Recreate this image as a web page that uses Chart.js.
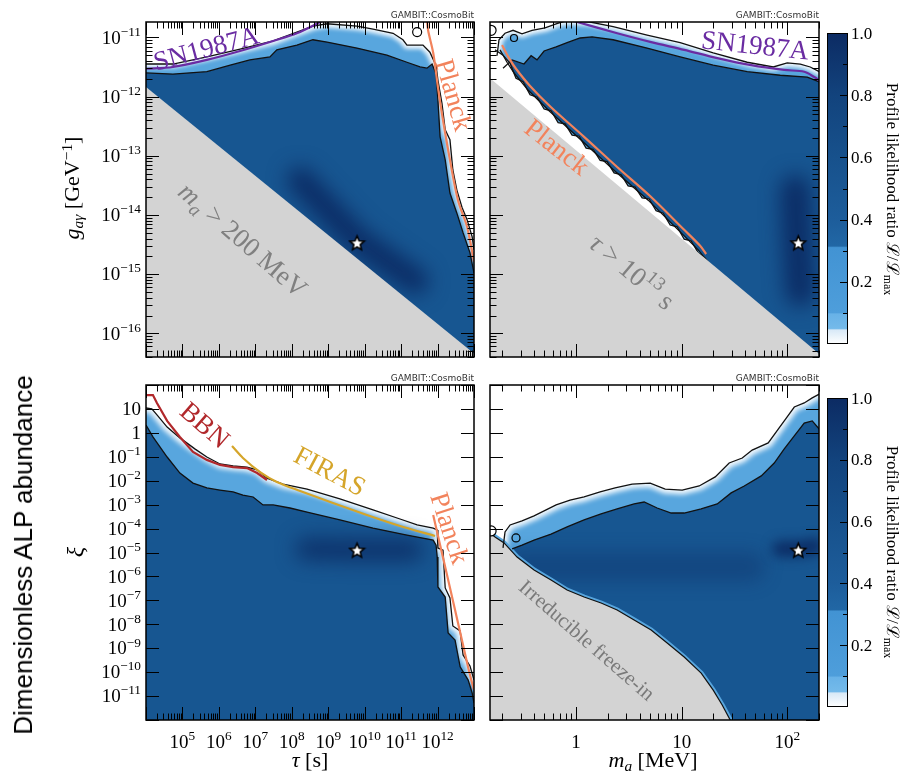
<!DOCTYPE html>
<html>
<head>
<meta charset="utf-8">
<script src="https://cdn.jsdelivr.net/npm/chart.js@4.4.1/dist/chart.umd.min.js"></script>
<style>
  body { margin: 0; background: #fff; }
  #fig { position: relative; width: 900px; height: 773px; overflow: hidden; background: #fff; }
  #fig canvas { position: absolute; left: 0; top: 0; }
  .txt { position: absolute; white-space: nowrap; line-height: 1; font-family: "Liberation Serif", serif; color: #000; }
  .c { transform: translate(-50%, -50%); }
  .up { transform: translate(-50%, -50%) rotate(-90deg); }
  .down { transform: translate(-50%, -50%) rotate(90deg); }
  .tag { font: 9px "DejaVu Sans", sans-serif; color: #333; }
  sub, sup { font-size: 0.7em; line-height: 0; position: relative; vertical-align: baseline; }
  sub { top: 0.25em; }
  sup { top: -0.45em; }
</style>
</head>
<body>
<div id="fig">
  <canvas id="tl" width="900" height="773"></canvas>
  <canvas id="tr" width="900" height="773"></canvas>
  <canvas id="bl" width="900" height="773"></canvas>
  <canvas id="br" width="900" height="773"></canvas>
  <canvas id="cbTop" width="900" height="773"></canvas>
  <canvas id="cbBottom" width="900" height="773"></canvas>

  <div class="txt tag" style="right:426px;top:10px">GAMBIT::CosmoBit</div>
  <div class="txt tag" style="right:81px;top:10px">GAMBIT::CosmoBit</div>
  <div class="txt tag" style="right:426px;top:373px">GAMBIT::CosmoBit</div>
  <div class="txt tag" style="right:81px;top:373px">GAMBIT::CosmoBit</div>

  <div class="txt up" style="left:23px;top:555px;font-family:'Liberation Sans',sans-serif;font-size:26px">Dimensionless ALP abundance</div>
  <div class="txt up" style="left:72px;top:188px;font-size:22px"><i>g</i><sub><i>aγ</i></sub>&nbsp;[GeV<sup>−1</sup>]</div>
  <div class="txt up" style="left:75px;top:552px;font-size:24px"><i>ξ</i></div>
  <div class="txt c" style="left:310px;top:760px;font-size:22px"><i>τ</i> [s]</div>
  <div class="txt c" style="left:653px;top:760px;font-size:22px"><i>m</i><sub><i>a</i></sub> [MeV]</div>
  <div class="txt down" style="left:892px;top:189px;font-size:17px">Profile likelihood ratio ℒ/ℒ<sub>max</sub></div>
  <div class="txt down" style="left:892px;top:552px;font-size:17px">Profile likelihood ratio ℒ/ℒ<sub>max</sub></div>
</div>

<script>
// all curves are [log10 x, log10 y] pairs

// --- tau vs g_agamma ---
const tlOuter = [[4.00,-11.45],[4.74,-11.45],[5.67,-11.33],[6.58,-11.20],[7.49,-11.06],[8.14,-10.91],[8.58,-10.81],[8.97,-10.77],[9.79,-10.81],[10.23,-10.86],[10.78,-10.93],[11.05,-11.04],[11.16,-11.13],[11.60,-11.13],[11.79,-11.25],[11.96,-11.48],[12.01,-11.72],[12.12,-12.11],[12.21,-12.56],[12.34,-12.73],[12.42,-13.24],[12.53,-13.58],[12.67,-13.87],[12.81,-14.08],[12.95,-14.37],[13.00,-14.59]];
const tlInner = [[4.00,-11.60],[4.74,-11.62],[5.67,-11.58],[6.31,-11.47],[6.85,-11.38],[7.40,-11.33],[7.59,-11.21],[8.14,-11.13],[8.58,-11.04],[8.97,-11.08],[9.79,-11.18],[10.61,-11.30],[11.16,-11.42],[11.52,-11.50],[11.71,-11.52],[11.85,-11.45],[11.96,-11.62],[12.01,-12.06],[12.07,-12.68],[12.21,-13.07],[12.34,-13.63],[12.53,-13.97],[12.70,-14.30],[12.89,-14.64],[13.00,-14.98]];
const tlGrey = [[4.00,-11.84],[13.00,-16.34]];
const tlSN = [[4.00,-11.53],[4.74,-11.50],[5.67,-11.38],[6.58,-11.23],[7.49,-11.06],[8.14,-10.93],[8.78,-10.74],[8.92,-10.69]];
const tlPlanck = [[11.71,-10.70],[11.74,-10.88],[11.88,-11.26],[12.01,-11.84],[12.15,-12.40],[12.34,-13.07],[12.56,-13.75],[12.81,-14.20],[13.00,-14.79]];
const tlBlob = [[8.23,-13.41],[9.79,-14.42],[11.40,-15.12]];
const tlRing = [[11.44,-10.91]];
const tlBest = [[9.79,-14.47]];

// --- m_a vs g_agamma ---
const trOuter = [[-0.749,-11.31],[-0.730,-11.04],[-0.673,-10.93],[-0.597,-10.88],[-0.512,-10.94],[-0.417,-10.88],[-0.294,-10.84],[-0.189,-10.77],[-0.095,-10.72],[0.133,-10.74],[0.351,-10.82],[0.673,-10.96],[0.986,-11.09],[1.299,-11.26],[1.621,-11.42],[1.868,-11.50],[2.000,-11.43],[2.124,-11.45],[2.218,-11.50],[2.303,-11.58]];
const trInner = [[-0.692,-11.52],[-0.606,-11.38],[-0.493,-11.45],[-0.426,-11.31],[-0.370,-11.38],[-0.303,-11.23],[-0.189,-11.16],[-0.085,-11.09],[0.038,-11.01],[0.152,-10.99],[0.351,-11.04],[0.673,-11.18],[0.986,-11.33],[1.299,-11.47],[1.621,-11.58],[1.934,-11.64],[2.190,-11.67],[2.303,-11.75]];
const trLowInner = [[-0.720,-11.21],[-0.654,-11.42],[-0.588,-11.60],[-0.455,-11.89],[-0.256,-12.24],[0.057,-12.75],[0.370,-13.26],[0.683,-13.75],[1.005,-14.32],[1.157,-14.59],[1.232,-14.76],[1.289,-14.90]];
const trLowOuter = [[-0.768,-11.21],[-0.692,-11.30],[-0.625,-11.44],[-0.569,-11.69],[-0.502,-11.75],[-0.436,-11.97],[-0.369,-12.01],[-0.303,-12.21],[-0.237,-12.24],[-0.170,-12.44],[-0.104,-12.46],[-0.038,-12.65],[0.029,-12.67],[0.095,-12.87],[0.161,-12.89],[0.228,-13.08],[0.294,-13.10],[0.360,-13.29],[0.427,-13.32],[0.493,-13.51],[0.559,-13.53],[0.626,-13.71],[0.692,-13.73],[0.758,-13.93],[0.825,-13.97],[0.891,-14.17],[0.957,-14.20],[1.024,-14.41],[1.090,-14.44],[1.157,-14.64],[1.223,-14.73],[1.289,-14.90]];
const trGrey = [[-0.815,-11.69],[2.303,-16.35]];
const trSN = [[-0.057,-10.71],[0.010,-10.74],[0.389,-10.93],[0.711,-11.08],[1.024,-11.21],[1.337,-11.35],[1.659,-11.47],[1.972,-11.55],[2.161,-11.58],[2.256,-11.67],[2.322,-11.75]];
const trPlanck = [[-0.701,-11.13],[-0.635,-11.35],[-0.569,-11.53],[-0.436,-11.82],[-0.237,-12.18],[0.076,-12.68],[0.389,-13.19],[0.701,-13.68],[1.024,-14.25],[1.175,-14.52],[1.232,-14.66]];
const trBlob = [[2.076,-13.58],[2.095,-14.42],[2.124,-15.30]];
const trIsland = [[-0.588,-11.01]];
const trRing = [[-0.805,-10.88]];
const trBest = [[2.105,-14.47]];

// --- tau vs xi ---
const blOuter = [[4.00,1.04],[4.16,1.00],[4.33,0.70],[4.58,0.24],[4.93,-0.21],[5.34,-0.67],[5.67,-1.01],[6.03,-1.30],[6.39,-1.38],[6.77,-1.43],[7.05,-1.55],[7.32,-1.89],[7.76,-2.14],[8.42,-2.35],[9.32,-2.76],[10.23,-3.22],[10.97,-3.60],[11.44,-3.85],[11.88,-3.98],[11.99,-4.06],[12.01,-4.81],[12.15,-4.90],[12.21,-6.48],[12.34,-6.90],[12.42,-8.07],[12.62,-8.28],[12.70,-9.28],[12.89,-9.74],[13.00,-10.33]];
const blInner = [[4.00,0.33],[4.19,-0.17],[4.58,-1.01],[4.93,-1.68],[5.29,-2.10],[5.67,-2.30],[6.03,-2.39],[6.39,-2.47],[6.66,-2.60],[6.94,-2.68],[7.21,-3.01],[7.49,-3.01],[7.95,-3.14],[8.42,-3.31],[9.32,-3.64],[10.23,-3.98],[11.16,-4.27],[11.88,-4.48],[11.96,-4.69],[11.99,-5.19],[12.01,-6.44],[12.21,-6.86],[12.29,-8.36],[12.48,-8.66],[12.62,-9.78],[12.84,-10.33],[12.95,-10.87],[13.00,-11.29]];
const blBBN = [[4.00,1.58],[4.19,1.58],[4.30,1.25],[4.58,0.50],[4.93,-0.17],[5.29,-0.80],[5.67,-1.13],[6.03,-1.34],[6.39,-1.43],[6.77,-1.47],[7.05,-1.68],[7.32,-1.97]];
const blFIRAS = [[6.36,-0.55],[6.66,-1.05],[7.13,-1.64],[7.59,-2.05],[8.23,-2.43],[9.13,-2.93],[10.06,-3.43],[10.97,-3.89],[11.93,-4.31]];
const blPlanck = [[11.88,-3.43],[12.07,-4.69],[12.26,-5.94],[12.48,-7.40],[12.70,-8.87],[12.89,-10.12],[13.00,-10.75]];
const blBlob = [[8.40,-4.85],[9.79,-4.90],[11.30,-4.90]];
const blBest = [[9.79,-4.90]];

// --- m_a vs xi ---
const brOuter = [[-0.692,-4.81],[-0.673,-4.14],[-0.625,-3.85],[-0.512,-3.68],[-0.398,-3.47],[-0.284,-3.22],[-0.189,-3.01],[-0.057,-2.81],[0.076,-2.68],[0.228,-2.47],[0.370,-2.30],[0.531,-2.14],[0.702,-2.10],[0.844,-2.35],[1.005,-2.39],[1.166,-2.22],[1.318,-1.84],[1.450,-1.26],[1.574,-1.05],[1.668,-0.72],[1.820,-0.42],[1.915,0.16],[1.991,0.62],[2.067,1.08],[2.161,1.25],[2.237,1.46],[2.303,1.62]];
const brInner = [[-0.606,-4.85],[-0.512,-4.69],[-0.398,-4.48],[-0.237,-4.23],[-0.085,-3.93],[0.076,-3.64],[0.237,-3.39],[0.389,-3.18],[0.550,-2.97],[0.645,-2.89],[0.768,-3.14],[0.901,-3.35],[1.024,-3.35],[1.185,-3.18],[1.337,-2.97],[1.469,-2.51],[1.593,-2.22],[1.754,-1.80],[1.877,-1.26],[1.972,-0.67],[2.067,-0.13],[2.161,0.41],[2.237,0.50],[2.303,0.16]];
const brFreezeIn = [[-0.815,-4.18],[-0.768,-4.35],[-0.682,-4.60],[-0.559,-5.19],[-0.398,-5.73],[-0.237,-6.15],[-0.085,-6.57],[0.076,-6.86],[0.237,-7.11],[0.389,-7.40],[0.550,-7.82],[0.711,-8.24],[0.863,-8.78],[1.024,-9.37],[1.185,-10.04],[1.299,-10.75],[1.384,-11.37],[1.460,-12.00],[1.507,-12.20]];
const brBand = [[-0.53,-5.60],[0.60,-5.60],[1.65,-5.60]];
const brBlob = [[1.934,-4.85],[2.124,-4.85],[2.266,-4.73]];
const brIsland = [[-0.569,-4.39]];
const brRing = [[-0.805,-4.10]];
const brBest = [[2.105,-4.90]];

// tick label exponents and colour bar
const tauLabelExp = [5, 6, 7, 8, 9, 10, 11, 12];
const gLabelExp = [-11, -12, -13, -14, -15, -16];
const xiLabelExp = [1, 0, -1, -2, -3, -4, -5, -6, -7, -8, -9, -10, -11];
const massLabelExp = [0, 1, 2];
const cbTicks = [0.2, 0.4, 0.6, 0.8, 1.0];
const cbMinor = [0.1, 0.3, 0.5, 0.7, 0.9];
const cbLabels = ['0.2', '0.4', '0.6', '0.8', '1.0'];
const cbStops = [[0, '#ffffff'], [0.045, '#d8e9f7'], [0.05, '#74baea'], [0.097, '#68b2e7'], [0.1, '#4e9edb'], [0.31, '#4293d3'], [0.315, '#2167a5'], [0.4, '#1d5d9b'], [0.6, '#17518c'], [0.8, '#12437d'], [1, '#0c2b63']];

const C = {
  deep: '#175691', band: '#58a6de', fringe: 'rgba(255,255,255,0.92)', grey: '#d3d3d3',
  contour: '#111111', blob: 'rgba(9,38,94,0.85)', sn: '#6a2ca2', planck: '#f2835c',
  bbn: '#b1282b', firas: '#d5a52a', note: '#808080'
};

const xy = pts => pts.map(([a, b]) => ({x: 10 ** a, y: 10 ** b}));

function starImage(r) {
  const c = document.createElement('canvas');
  const s = Math.ceil(r * 2 + 4);
  c.width = c.height = s;
  const g = c.getContext('2d');
  g.translate(s / 2, s / 2 + r * 0.1);
  g.beginPath();
  for (let i = 0; i < 10; i++) {
    const rr = i % 2 ? r * 0.45 : r;
    const t = -Math.PI / 2 + i * Math.PI / 5;
    g.lineTo(rr * Math.cos(t), rr * Math.sin(t));
  }
  g.closePath();
  g.fillStyle = '#fff';
  g.fill();
  g.lineWidth = 1.6;
  g.strokeStyle = '#000';
  g.stroke();
  return c;
}
const starImg = starImage(7.5);

// dataset shorthands
const area = (pts, color) => ({data: xy(pts), fill: 'start', backgroundColor: color, borderColor: 'rgba(0,0,0,0)', borderWidth: 0});
const curve = (pts, color, width, extra) => Object.assign({data: xy(pts), fill: false, borderColor: color, borderWidth: width}, extra);
const glow = (pts, color, width, blur) => ({data: xy(pts), fill: false, borderColor: color, borderWidth: width, blur: blur, borderCapStyle: 'round', borderJoinStyle: 'round'});
const dots = (pts, color, r) => ({data: xy(pts), showLine: false, pointRadius: r, pointStyle: 'circle', pointBackgroundColor: color, pointBorderColor: '#000', pointBorderWidth: 1.2, clip: 0});
const star = pts => ({data: xy(pts), showLine: false, pointRadius: 8, pointStyle: starImg});

function drawRich(ctx, parts, x, y, o) {
  const size = o.size;
  const segs = parts.map(([t, f]) => {
    const small = f.includes('b') || f.includes('p');
    const s = small ? size * 0.7 : size;
    const font = (f.includes('i') ? 'italic ' : '') + s.toFixed(1) + 'px "Liberation Serif"';
    ctx.font = font;
    return {t, font, w: ctx.measureText(t).width, dy: f.includes('b') ? size * 0.22 : f.includes('p') ? -size * 0.42 : 0};
  });
  const total = segs.reduce((s, g) => s + g.w, 0);
  let cx = o.align === 'right' ? -total : o.align === 'left' ? 0 : -total / 2;
  ctx.save();
  ctx.translate(x, y);
  ctx.rotate((o.angle || 0) * Math.PI / 180);
  ctx.fillStyle = o.color || '#000';
  ctx.textAlign = 'left';
  ctx.textBaseline = 'alphabetic';
  segs.forEach(g => {
    ctx.font = g.font;
    ctx.fillText(g.t, cx, size * 0.33 + g.dy);
    cx += g.w;
  });
  ctx.restore();
}

const powParts = e => e === 0 ? [['1', '']] : e === 1 ? [['10', '']] : [['10', ''], [String(e).replace('-', '−'), 'p']];

function logTicks(scale, lo, hi, minor) {
  const major = [], small = [];
  for (let e = lo; e <= hi; e++) {
    major.push(10 ** e);
    if (minor) for (let k = 2; k <= 9; k++) small.push(k * 10 ** e);
  }
  const inside = v => v >= scale.min * 0.999 && v <= scale.max * 1.001;
  return [major.filter(inside), small.filter(inside)];
}

const decor = {};

const panelDecor = {
  id: 'panelDecor',
  beforeDatasetDraw(chart, args) {
    const b = chart.data.datasets[args.index].blur;
    if (b) {
      chart.ctx.save();
      chart.ctx.filter = 'blur(' + b + 'px)';
    }
  },
  afterDatasetDraw(chart, args) {
    if (chart.data.datasets[args.index].blur) chart.ctx.restore();
  },
  afterDatasetsDraw(chart) {
    const d = decor[chart.canvas.id];
    if (!d) return;
    const {ctx, chartArea: a} = chart;
    const sx = chart.scales.x, sy = chart.scales.y;

    ctx.save();
    ctx.beginPath();
    ctx.rect(a.left, a.top, a.width, a.height);
    ctx.clip();
    d.notes.forEach(n => drawRich(ctx, n.parts, sx.getPixelForValue(10 ** n.at[0]), sy.getPixelForValue(10 ** n.at[1]), n));
    ctx.restore();

    ctx.save();
    ctx.strokeStyle = '#000';
    ctx.lineWidth = 1;
    ctx.beginPath();
    const [xMaj, xMin] = logTicks(sx, d.x.exp[0], d.x.exp[1], d.x.minor);
    const [yMaj, yMin] = logTicks(sy, d.y.exp[0], d.y.exp[1], d.y.minor);
    [[xMaj, 13], [xMin, 6.5]].forEach(([vals, len]) => vals.forEach(v => {
      const p = Math.round(sx.getPixelForValue(v)) + 0.5;
      ctx.moveTo(p, a.bottom); ctx.lineTo(p, a.bottom - len);
      ctx.moveTo(p, a.top); ctx.lineTo(p, a.top + len);
    }));
    [[yMaj, 13], [yMin, 6.5]].forEach(([vals, len]) => vals.forEach(v => {
      const p = Math.round(sy.getPixelForValue(v)) + 0.5;
      ctx.moveTo(a.left, p); ctx.lineTo(a.left + len, p);
      ctx.moveTo(a.right, p); ctx.lineTo(a.right - len, p);
    }));
    ctx.stroke();
    ctx.lineWidth = 1.5;
    ctx.strokeRect(a.left, a.top, a.width, a.height);

    (d.x.labels || []).forEach(e => drawRich(ctx, powParts(e), sx.getPixelForValue(10 ** e), a.bottom + 22, {size: 19}));
    (d.y.labels || []).forEach(e => drawRich(ctx, powParts(e), a.left - 5, sy.getPixelForValue(10 ** e), {size: 19, align: 'right'}));
    ctx.restore();
  }
};

function panel(id, pad, xr, yr, layers, cfg) {
  decor[id] = cfg;
  const n = layers.length;
  return new Chart(document.getElementById(id), {
    type: 'line',
    data: {
      datasets: layers.map((d, i) => Object.assign({pointRadius: 0, pointHoverRadius: 0, tension: 0, order: n - i}, d))
    },
    options: {
      responsive: false,
      animation: false,
      devicePixelRatio: 1,
      events: [],
      layout: {padding: pad},
      scales: {
        x: {type: 'logarithmic', min: xr[0], max: xr[1], display: false, bounds: 'data'},
        y: {type: 'logarithmic', min: yr[0], max: yr[1], display: false, bounds: 'data'}
      },
      plugins: {legend: {display: false}, tooltip: {enabled: false}}
    },
    plugins: [panelDecor]
  });
}

const tauRange = [1e4, 1e13];
const massRange = [0.153, 200];
const gRange = [10 ** -16.4, 10 ** -10.74];
const xiRange = [1e-12, 1e2];
const smooth = {tension: 0.3};

panel('tl', {left: 146, top: 22, right: 426, bottom: 416}, tauRange, gRange, [
  area(tlOuter, C.band),
  glow(tlOuter, C.fringe, 8, 2),
  area(tlInner, C.deep),
  glow(tlBlob, C.blob, 26, 10),
  area(tlGrey, C.grey),
  curve(tlOuter, C.contour, 1.3),
  curve(tlInner, C.contour, 1.3),
  curve(tlSN, C.sn, 2.2, smooth),
  curve(tlPlanck, C.planck, 2.2, smooth),
  dots(tlRing, '#fff', 4.5),
  star(tlBest)
], {
  x: {exp: [4, 13], minor: true},
  y: {exp: [-17, -10], minor: true, labels: gLabelExp},
  notes: [
    {at: [5.65, -11.18], angle: -15, size: 27, color: C.sn, parts: [['SN1987A', '']]},
    {at: [12.45, -11.97], angle: 74, size: 27, color: C.planck, parts: [['Planck', '']]},
    {at: [6.66, -14.42], angle: 41, size: 27, color: C.note, parts: [['m', 'i'], ['a', 'ib'], [' > 200 MeV', '']]}
  ]
});

panel('tr', {left: 490, top: 22, right: 81, bottom: 416}, massRange, gRange, [
  area(trOuter, C.band),
  glow(trOuter, C.fringe, 8, 2),
  area(trInner, C.deep),
  glow(trBlob, C.blob, 30, 10),
  area(trLowInner, C.band),
  area(trLowOuter, '#ffffff'),
  curve(trLowInner, C.contour, 1.3),
  curve(trLowOuter, C.contour, 1.3),
  area(trGrey, C.grey),
  curve(trOuter, C.contour, 1.3),
  curve(trInner, C.contour, 1.3),
  curve(trSN, C.sn, 2.2, smooth),
  curve(trPlanck, C.planck, 2.2, smooth),
  dots(trIsland, C.band, 3.5),
  dots(trRing, '#fff', 5),
  star(trBest)
], {
  x: {exp: [-1, 2], minor: true},
  y: {exp: [-17, -10], minor: true},
  notes: [
    {at: [1.697, -11.13], angle: 6, size: 27, color: C.sn, parts: [['SN1987A', '']]},
    {at: [-0.18, -12.85], angle: 38, size: 27, color: C.planck, parts: [['Planck', '']]},
    {at: [0.531, -14.96], angle: 40, size: 27, color: C.note, parts: [['τ', 'i'], [' > 10', ''], ['13', 'p'], [' s', '']]}
  ]
});

panel('bl', {left: 146, top: 385, right: 426, bottom: 53}, tauRange, xiRange, [
  area(blOuter, C.band),
  glow(blOuter, C.fringe, 9, 2.5),
  area(blInner, C.deep),
  glow(blBlob, 'rgba(9,38,94,0.75)', 22, 10),
  curve(blOuter, C.contour, 1.3),
  curve(blInner, C.contour, 1.3),
  curve(blBBN, C.bbn, 2.2),
  curve(blFIRAS, C.firas, 2.2, smooth),
  curve(blPlanck, C.planck, 2.2, smooth),
  star(blBest)
], {
  x: {exp: [4, 13], minor: true, labels: tauLabelExp},
  y: {exp: [-12, 2], minor: false, labels: xiLabelExp},
  notes: [
    {at: [5.62, 0.33], angle: 41, size: 27, color: C.bbn, parts: [['BBN', '']]},
    {at: [9.05, -1.59], angle: 28, size: 27, color: C.firas, parts: [['FIRAS', '']]},
    {at: [12.34, -3.98], angle: 72, size: 27, color: C.planck, parts: [['Planck', '']]}
  ]
});

panel('br', {left: 490, top: 385, right: 81, bottom: 53}, massRange, xiRange, [
  area(brOuter, C.band),
  glow(brOuter, C.fringe, 9, 2.5),
  area(brInner, C.deep),
  glow(brBand, 'rgba(9,38,94,0.3)', 30, 9),
  glow(brBlob, C.blob, 16, 6),
  curve(brFreezeIn, C.band, 5),
  area(brFreezeIn, C.grey),
  curve(brFreezeIn, C.contour, 1.2),
  curve(brOuter, C.contour, 1.3),
  curve(brInner, C.contour, 1.3),
  dots(brIsland, C.band, 4),
  dots(brRing, '#fff', 5),
  star(brBest)
], {
  x: {exp: [-1, 2], minor: true, labels: massLabelExp},
  y: {exp: [-12, 2], minor: false},
  notes: [
    {at: [0.104, -8.66], angle: 41, size: 21, color: '#7a7a7a', parts: [['Irreducible freeze-in', '']]}
  ]
});

// colour bars
const cbDecor = {
  id: 'cbDecor',
  afterDatasetsDraw(chart) {
    const {ctx, chartArea: a} = chart;
    const sy = chart.scales.y;
    ctx.save();
    ctx.strokeStyle = '#000';
    ctx.lineWidth = 1;
    ctx.beginPath();
    cbTicks.forEach(v => { const p = Math.round(sy.getPixelForValue(v)) + 0.5; ctx.moveTo(a.right, p); ctx.lineTo(a.right - 8, p); });
    cbMinor.forEach(v => { const p = Math.round(sy.getPixelForValue(v)) + 0.5; ctx.moveTo(a.right, p); ctx.lineTo(a.right - 5, p); });
    ctx.stroke();
    ctx.strokeRect(a.left + 0.5, a.top + 0.5, a.width - 1, a.height - 1);
    cbTicks.forEach((v, i) => drawRich(ctx, [[cbLabels[i], '']], a.right + 3, sy.getPixelForValue(v), {size: 17, align: 'left'}));
    ctx.restore();
  }
};

function colorbar(id, pad) {
  return new Chart(document.getElementById(id), {
    type: 'bar',
    data: {
      labels: [''],
      datasets: [{
        data: [1],
        borderWidth: 0,
        barPercentage: 1,
        categoryPercentage: 1,
        backgroundColor(c) {
          const a = c.chart.chartArea;
          if (!a) return '#1d5d9b';
          const g = c.chart.ctx.createLinearGradient(0, a.bottom, 0, a.top);
          cbStops.forEach(([v, col]) => g.addColorStop(v, col));
          return g;
        }
      }]
    },
    options: {
      responsive: false,
      animation: false,
      devicePixelRatio: 1,
      events: [],
      layout: {padding: pad},
      scales: {
        x: {display: false},
        y: {display: false, min: 0, max: 1}
      },
      plugins: {legend: {display: false}, tooltip: {enabled: false}}
    },
    plugins: [cbDecor]
  });
}

colorbar('cbTop', {left: 827, top: 33, right: 52, bottom: 429});
colorbar('cbBottom', {left: 827, top: 398, right: 52, bottom: 66});
</script>
</body>
</html>
